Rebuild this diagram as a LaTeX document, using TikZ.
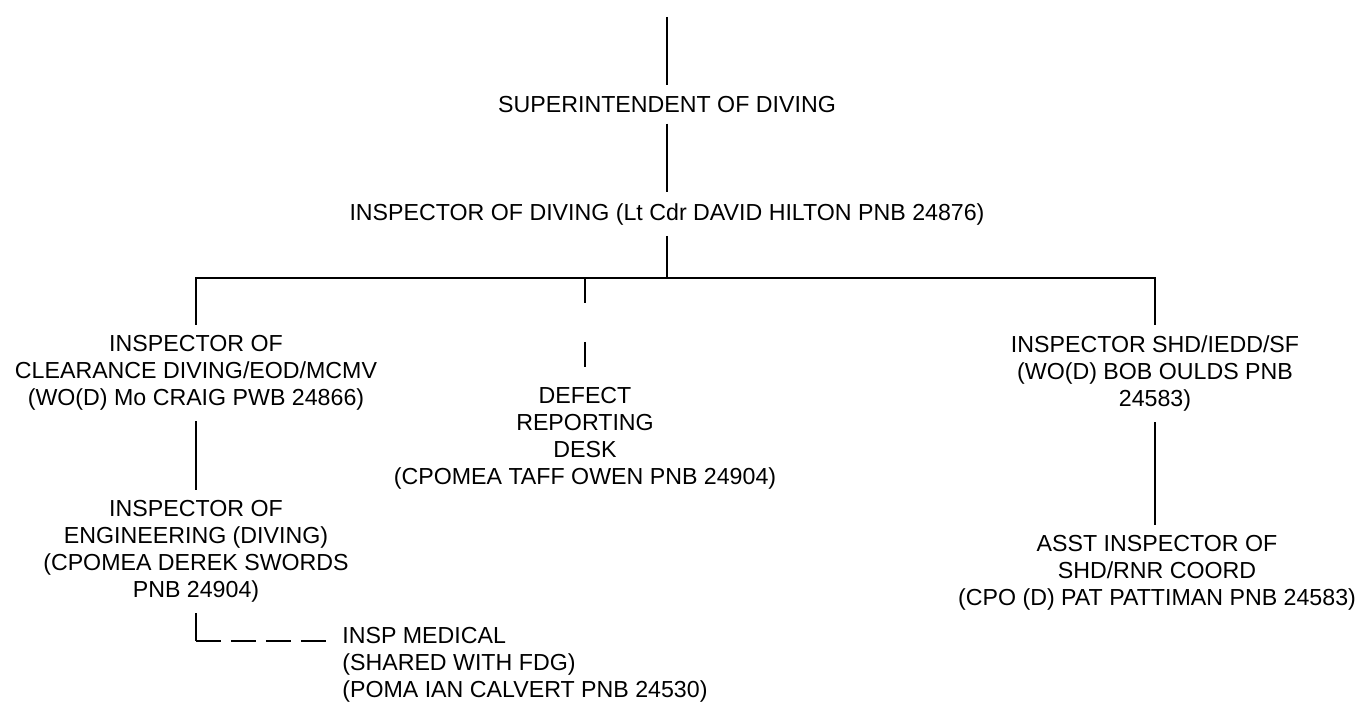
\documentclass[tikz,border=0pt]{standalone}
\usepackage{fontspec}
\setmainfont{Liberation Sans}
\tikzset{
    post/.style={font=\fontsize{13.2}{15.4}\selectfont, align=center,
        inner xsep=0pt, inner ysep=6pt, anchor=north},
    link/.style={line width=0.9pt, black}
}
\begin{document}
\begin{tikzpicture}[x=0.02cm, y=-0.02cm]
    \useasboundingbox (0,0) rectangle (1361,702);

    \node[post] (sup) at (667,85.5) {SUPERINTENDENT OF DIVING};
    \node[post] (insp) at (667,192.5) {INSPECTOR OF DIVING (Lt Cdr DAVID HILTON PNB 24876)};
    \node[post] (clear) at (196,324.5) {INSPECTOR OF\\CLEARANCE DIVING/EOD/MCMV\\(WO(D) Mo CRAIG PWB 24866)};
    \node[post] (defect) at (585,376.5) {DEFECT\\REPORTING\\DESK\\(CPOMEA TAFF OWEN PNB 24904)};
    \node[post] (shd) at (1155,324.5) {INSPECTOR SHD/IEDD/SF\\(WO(D) BOB OULDS PNB\\24583)};
    \node[post] (eng) at (196,489.5) {INSPECTOR OF\\ENGINEERING (DIVING)\\(CPOMEA DEREK SWORDS\\PNB 24904)};
    \node[post] (asst) at (1157,524.5) {ASST INSPECTOR OF\\SHD/RNR COORD\\(CPO (D) PAT PATTIMAN PNB 24583)};
    \node[post, anchor=north west, align=left, inner xsep=0.28cm] (med) at (328,616)
        {INSP MEDICAL\\(SHARED WITH FDG)\\(POMA IAN CALVERT PNB 24530)};

    \coordinate (top) at (667,17);
    \coordinate (bus) at (667,278);
    \coordinate (corner) at (196,641);

    \draw[link] (top) -- (sup);
    \draw[link] (sup) -- (insp);
    \draw[link] (insp.south) -- (bus);
    \draw[link] (clear.north) -- (clear.north |- bus) -- (shd.north |- bus) -- (shd.north);
    \draw[link, dash pattern=on 0.5cm off 0.78cm] (defect.north |- bus) -- (defect.north);
    \draw[link] (clear.south) -- (eng.north);
    \draw[link] (shd.south) -- (shd.south |- asst.north);
    \draw[link] (eng.south) -- (corner);
    \draw[link, dash pattern=on 0.5cm off 0.2cm] (corner) -- (med.north west |- corner);
\end{tikzpicture}
\end{document}
